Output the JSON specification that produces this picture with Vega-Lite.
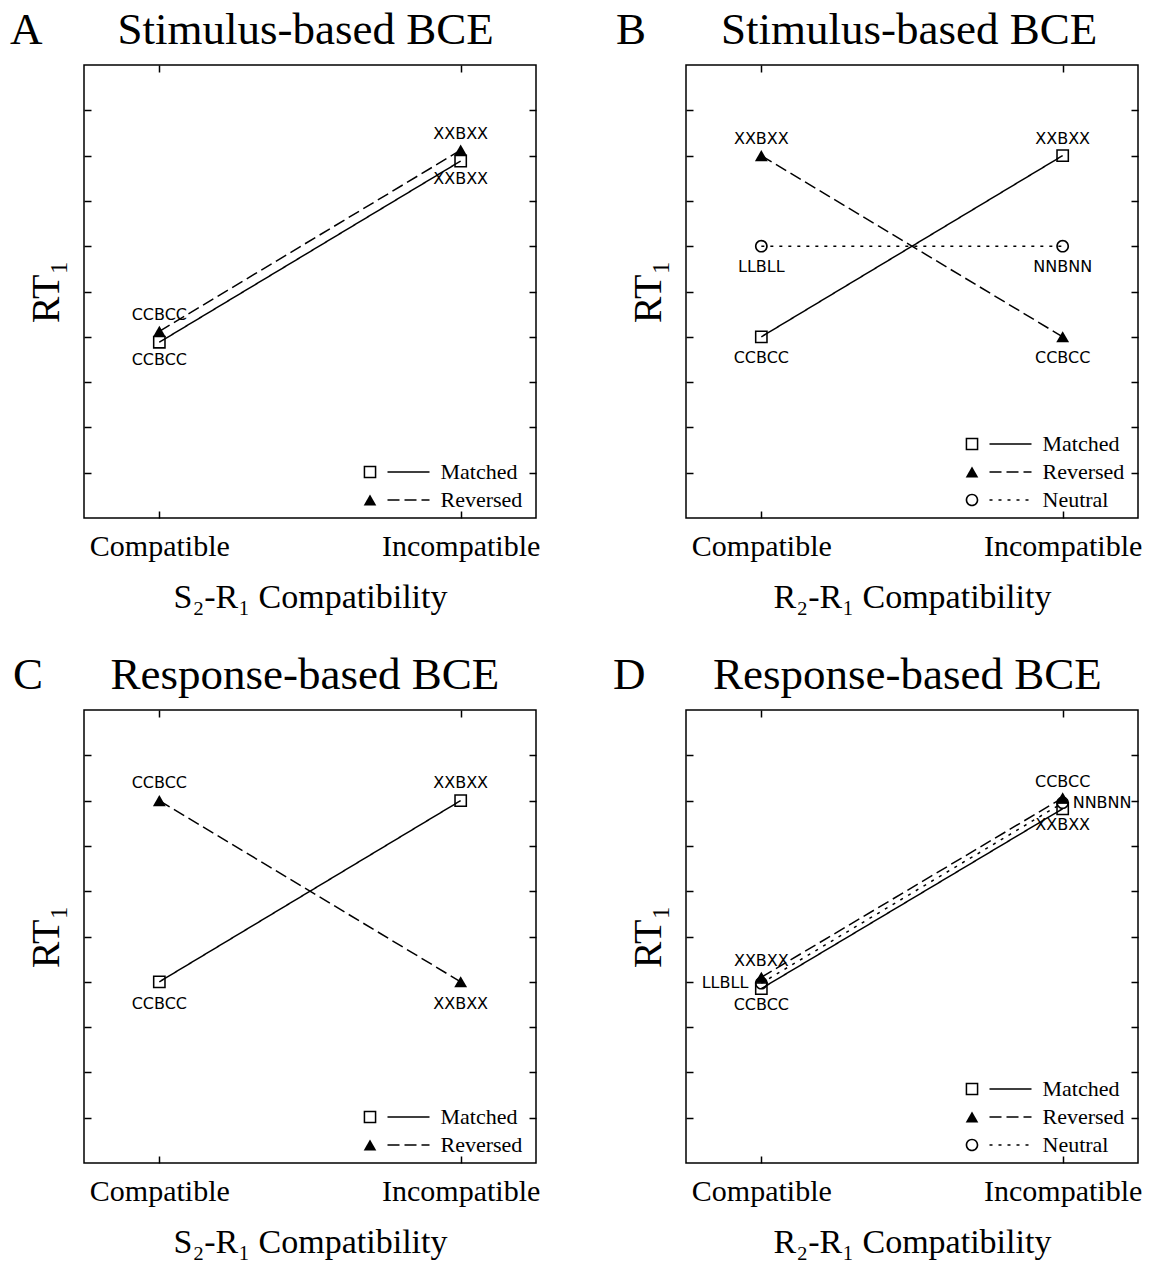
{
  "$schema": "https://vega.github.io/schema/vega-lite/v6.json",
  "background": "white",
  "padding": {"left": 9, "top": 7, "right": 0, "bottom": 0},
  "columns": 2,
  "spacing": {"row": 192, "column": 150},
  "bounds": "flush",
  "resolve": {
    "scale": {"shape": "independent", "strokeDash": "independent"},
    "legend": {"shape": "independent", "strokeDash": "independent"}
  },
  "concat": [
    {
      "width": 452, "height": 453,
      "title": {"text": "A\u00a0\u00a0\u00a0\u00a0\u00a0\u00a0\u2006Stimulus-based BCE", "anchor": "start", "frame": "group", "dx": -74},
      "data": {"values": [
        {"cond": "Matched", "compat": "Compatible", "rt": 3.88, "label": "CCBCC"},
        {"cond": "Matched", "compat": "Incompatible", "rt": 7.88, "label": "XXBXX"},
        {"cond": "Reversed", "compat": "Compatible", "rt": 4.12, "label": "CCBCC"},
        {"cond": "Reversed", "compat": "Incompatible", "rt": 8.12, "label": "XXBXX"}
      ]},
      "layer": [
        {
          "mark": {"type": "line", "stroke": "black", "strokeWidth": 1.5},
          "encoding": {
            "x": {"field": "compat", "type": "ordinal", "scale": {"type": "point", "padding": 0.25}, "axis": {"orient": "bottom", "title": "S\u2082-R\u2081 Compatibility", "labelAngle": 0}},
            "y": {"field": "rt", "type": "quantitative", "scale": {"domain": [0, 10]}, "axis": {"orient": "left", "values": [1,2,3,4,5,6,7,8,9], "labels": false, "title": "RT\u2081"}},
            "strokeDash": {"field": "cond", "type": "nominal", "sort": ["Matched", "Reversed"], "scale": {"range": [[1, 0], [12, 5]]},
              "legend": {"orient": "none", "legendX": 302.5, "legendY": 393, "title": null, "symbolType": "stroke", "symbolSize": 1764, "symbolStrokeColor": "black", "symbolStrokeWidth": 1.5, "clipHeight": 28, "rowPadding": 0, "padding": 0, "labelOffset": 10, "labelFont": "Liberation Serif", "labelFontSize": 22, "labelColor": "black"}}
          }
        },
        {
          "mark": {"type": "point", "filled": true, "fill": "black", "strokeWidth": 0, "size": 165, "opacity": 1},
          "encoding": {
            "x": {"field": "compat", "type": "ordinal", "scale": {"type": "point", "padding": 0.25}, "axis": {"orient": "top", "labels": false, "title": null}},
            "y": {"field": "rt", "type": "quantitative", "scale": {"domain": [0, 10]}, "axis": {"orient": "right", "values": [1,2,3,4,5,6,7,8,9], "labels": false, "title": null}},
            "shape": {"field": "cond", "type": "nominal", "sort": ["Matched", "Reversed"],
              "scale": {"range": ["M-1,-1H1V1H-1Z M-0.76,-0.76V0.76H0.76V-0.76Z", "triangle-up"]},
              "legend": {"orient": "none", "legendX": 275, "legendY": 393, "title": null, "labelExpr": "''", "symbolSize": 160, "symbolFillColor": "black", "symbolStrokeWidth": 0, "clipHeight": 28, "rowPadding": 0, "padding": 0, "labelOffset": 0, "labelFontSize": 22}}
          }
        },
        {
          "transform": [{"filter": "datum.cond == 'Reversed'"}],
          "mark": {"type": "text", "dy": -16, "baseline": "middle"},
          "encoding": {
            "x": {"field": "compat", "type": "ordinal", "scale": {"type": "point", "padding": 0.25}, "axis": null},
            "y": {"field": "rt", "type": "quantitative", "scale": {"domain": [0, 10]}, "axis": null},
            "text": {"field": "label"}
          }
        },
        {
          "transform": [{"filter": "datum.cond == 'Matched'"}],
          "mark": {"type": "text", "dy": 18, "baseline": "middle"},
          "encoding": {
            "x": {"field": "compat", "type": "ordinal", "scale": {"type": "point", "padding": 0.25}, "axis": null},
            "y": {"field": "rt", "type": "quantitative", "scale": {"domain": [0, 10]}, "axis": null},
            "text": {"field": "label"}
          }
        }
      ],
      "resolve": {"axis": {"x": "independent", "y": "independent"}}
    },
    {
      "width": 452, "height": 453,
      "title": {"text": "B\u00a0\u00a0\u00a0\u00a0\u00a0\u00a0\u2006Stimulus-based BCE", "anchor": "start", "frame": "group", "dx": -70},
      "data": {"values": [
        {"cond": "Matched", "compat": "Compatible", "rt": 4, "label": "CCBCC"},
        {"cond": "Matched", "compat": "Incompatible", "rt": 8, "label": "XXBXX"},
        {"cond": "Reversed", "compat": "Compatible", "rt": 8, "label": "XXBXX"},
        {"cond": "Reversed", "compat": "Incompatible", "rt": 4, "label": "CCBCC"},
        {"cond": "Neutral", "compat": "Compatible", "rt": 6, "label": "LLBLL"},
        {"cond": "Neutral", "compat": "Incompatible", "rt": 6, "label": "NNBNN"}
      ]},
      "layer": [
        {
          "mark": {"type": "line", "stroke": "black", "strokeWidth": 1.5},
          "encoding": {
            "x": {"field": "compat", "type": "ordinal", "scale": {"type": "point", "padding": 0.25}, "axis": {"orient": "bottom", "title": "R\u2082-R\u2081 Compatibility", "labelAngle": 0}},
            "y": {"field": "rt", "type": "quantitative", "scale": {"domain": [0, 10]}, "axis": {"orient": "left", "values": [1,2,3,4,5,6,7,8,9], "labels": false, "title": "RT\u2081"}},
            "strokeDash": {"field": "cond", "type": "nominal", "sort": ["Matched", "Reversed", "Neutral"], "scale": {"range": [[1, 0], [12, 5], [3, 6]]},
              "legend": {"orient": "none", "legendX": 302.5, "legendY": 365, "title": null, "symbolType": "stroke", "symbolSize": 1764, "symbolStrokeColor": "black", "symbolStrokeWidth": 1.5, "clipHeight": 28, "rowPadding": 0, "padding": 0, "labelOffset": 10, "labelFont": "Liberation Serif", "labelFontSize": 22, "labelColor": "black"}}
          }
        },
        {
          "mark": {"type": "point", "filled": true, "fill": "black", "strokeWidth": 0, "size": 165, "opacity": 1},
          "encoding": {
            "x": {"field": "compat", "type": "ordinal", "scale": {"type": "point", "padding": 0.25}, "axis": {"orient": "top", "labels": false, "title": null}},
            "y": {"field": "rt", "type": "quantitative", "scale": {"domain": [0, 10]}, "axis": {"orient": "right", "values": [1,2,3,4,5,6,7,8,9], "labels": false, "title": null}},
            "shape": {"field": "cond", "type": "nominal", "sort": ["Matched", "Reversed", "Neutral"],
              "scale": {"range": ["M-1,-1H1V1H-1Z M-0.76,-0.76V0.76H0.76V-0.76Z", "triangle-up", "M-1,0A1,1,0,1,0,1,0A1,1,0,1,0,-1,0Z M-0.74,0A0.74,0.74,0,1,1,0.74,0A0.74,0.74,0,1,1,-0.74,0Z"]},
              "legend": {"orient": "none", "legendX": 275, "legendY": 365, "title": null, "labelExpr": "''", "symbolSize": 160, "symbolFillColor": "black", "symbolStrokeWidth": 0, "clipHeight": 28, "rowPadding": 0, "padding": 0, "labelOffset": 0, "labelFontSize": 22}}
          }
        },
        {
          "transform": [{"filter": "datum.rt > 7"}],
          "mark": {"type": "text", "dy": -17, "baseline": "middle"},
          "encoding": {
            "x": {"field": "compat", "type": "ordinal", "scale": {"type": "point", "padding": 0.25}, "axis": null},
            "y": {"field": "rt", "type": "quantitative", "scale": {"domain": [0, 10]}, "axis": null},
            "text": {"field": "label"}
          }
        },
        {
          "transform": [{"filter": "datum.rt <= 7"}],
          "mark": {"type": "text", "dy": 21, "baseline": "middle"},
          "encoding": {
            "x": {"field": "compat", "type": "ordinal", "scale": {"type": "point", "padding": 0.25}, "axis": null},
            "y": {"field": "rt", "type": "quantitative", "scale": {"domain": [0, 10]}, "axis": null},
            "text": {"field": "label"}
          }
        }
      ],
      "resolve": {"axis": {"x": "independent", "y": "independent"}}
    },
    {
      "width": 452, "height": 453,
      "title": {"text": "C\u00a0\u00a0\u00a0\u00a0\u00a0\u00a0Response-based BCE", "anchor": "start", "frame": "group", "dx": -71},
      "data": {"values": [
        {"cond": "Matched", "compat": "Compatible", "rt": 4, "label": "CCBCC"},
        {"cond": "Matched", "compat": "Incompatible", "rt": 8, "label": "XXBXX"},
        {"cond": "Reversed", "compat": "Compatible", "rt": 8, "label": "CCBCC"},
        {"cond": "Reversed", "compat": "Incompatible", "rt": 4, "label": "XXBXX"}
      ]},
      "layer": [
        {
          "mark": {"type": "line", "stroke": "black", "strokeWidth": 1.5},
          "encoding": {
            "x": {"field": "compat", "type": "ordinal", "scale": {"type": "point", "padding": 0.25}, "axis": {"orient": "bottom", "title": "S\u2082-R\u2081 Compatibility", "labelAngle": 0}},
            "y": {"field": "rt", "type": "quantitative", "scale": {"domain": [0, 10]}, "axis": {"orient": "left", "values": [1,2,3,4,5,6,7,8,9], "labels": false, "title": "RT\u2081"}},
            "strokeDash": {"field": "cond", "type": "nominal", "sort": ["Matched", "Reversed"], "scale": {"range": [[1, 0], [12, 5]]},
              "legend": {"orient": "none", "legendX": 302.5, "legendY": 393, "title": null, "symbolType": "stroke", "symbolSize": 1764, "symbolStrokeColor": "black", "symbolStrokeWidth": 1.5, "clipHeight": 28, "rowPadding": 0, "padding": 0, "labelOffset": 10, "labelFont": "Liberation Serif", "labelFontSize": 22, "labelColor": "black"}}
          }
        },
        {
          "mark": {"type": "point", "filled": true, "fill": "black", "strokeWidth": 0, "size": 165, "opacity": 1},
          "encoding": {
            "x": {"field": "compat", "type": "ordinal", "scale": {"type": "point", "padding": 0.25}, "axis": {"orient": "top", "labels": false, "title": null}},
            "y": {"field": "rt", "type": "quantitative", "scale": {"domain": [0, 10]}, "axis": {"orient": "right", "values": [1,2,3,4,5,6,7,8,9], "labels": false, "title": null}},
            "shape": {"field": "cond", "type": "nominal", "sort": ["Matched", "Reversed"],
              "scale": {"range": ["M-1,-1H1V1H-1Z M-0.76,-0.76V0.76H0.76V-0.76Z", "triangle-up"]},
              "legend": {"orient": "none", "legendX": 275, "legendY": 393, "title": null, "labelExpr": "''", "symbolSize": 160, "symbolFillColor": "black", "symbolStrokeWidth": 0, "clipHeight": 28, "rowPadding": 0, "padding": 0, "labelOffset": 0, "labelFontSize": 22}}
          }
        },
        {
          "transform": [{"filter": "datum.rt > 7"}],
          "mark": {"type": "text", "dy": -18, "baseline": "middle"},
          "encoding": {
            "x": {"field": "compat", "type": "ordinal", "scale": {"type": "point", "padding": 0.25}, "axis": null},
            "y": {"field": "rt", "type": "quantitative", "scale": {"domain": [0, 10]}, "axis": null},
            "text": {"field": "label"}
          }
        },
        {
          "transform": [{"filter": "datum.rt <= 7"}],
          "mark": {"type": "text", "dy": 22, "baseline": "middle"},
          "encoding": {
            "x": {"field": "compat", "type": "ordinal", "scale": {"type": "point", "padding": 0.25}, "axis": null},
            "y": {"field": "rt", "type": "quantitative", "scale": {"domain": [0, 10]}, "axis": null},
            "text": {"field": "label"}
          }
        }
      ],
      "resolve": {"axis": {"x": "independent", "y": "independent"}}
    },
    {
      "width": 452, "height": 453,
      "title": {"text": "D\u00a0\u00a0\u00a0\u00a0\u00a0\u00a0Response-based BCE", "anchor": "start", "frame": "group", "dx": -73},
      "data": {"values": [
        {"cond": "Matched", "compat": "Compatible", "rt": 3.85, "label": "CCBCC"},
        {"cond": "Matched", "compat": "Incompatible", "rt": 7.82, "label": "XXBXX"},
        {"cond": "Reversed", "compat": "Compatible", "rt": 4.1, "label": "XXBXX"},
        {"cond": "Reversed", "compat": "Incompatible", "rt": 8.06, "label": "CCBCC"},
        {"cond": "Neutral", "compat": "Compatible", "rt": 3.97, "label": "LLBLL"},
        {"cond": "Neutral", "compat": "Incompatible", "rt": 7.95, "label": "NNBNN"}
      ]},
      "layer": [
        {
          "mark": {"type": "line", "stroke": "black", "strokeWidth": 1.5},
          "encoding": {
            "x": {"field": "compat", "type": "ordinal", "scale": {"type": "point", "padding": 0.25}, "axis": {"orient": "bottom", "title": "R\u2082-R\u2081 Compatibility", "labelAngle": 0}},
            "y": {"field": "rt", "type": "quantitative", "scale": {"domain": [0, 10]}, "axis": {"orient": "left", "values": [1,2,3,4,5,6,7,8,9], "labels": false, "title": "RT\u2081"}},
            "strokeDash": {"field": "cond", "type": "nominal", "sort": ["Matched", "Reversed", "Neutral"], "scale": {"range": [[1, 0], [12, 5], [3, 6]]},
              "legend": {"orient": "none", "legendX": 302.5, "legendY": 365, "title": null, "symbolType": "stroke", "symbolSize": 1764, "symbolStrokeColor": "black", "symbolStrokeWidth": 1.5, "clipHeight": 28, "rowPadding": 0, "padding": 0, "labelOffset": 10, "labelFont": "Liberation Serif", "labelFontSize": 22, "labelColor": "black"}}
          }
        },
        {
          "mark": {"type": "point", "filled": true, "fill": "black", "strokeWidth": 0, "size": 165, "opacity": 1},
          "encoding": {
            "x": {"field": "compat", "type": "ordinal", "scale": {"type": "point", "padding": 0.25}, "axis": {"orient": "top", "labels": false, "title": null}},
            "y": {"field": "rt", "type": "quantitative", "scale": {"domain": [0, 10]}, "axis": {"orient": "right", "values": [1,2,3,4,5,6,7,8,9], "labels": false, "title": null}},
            "shape": {"field": "cond", "type": "nominal", "sort": ["Matched", "Reversed", "Neutral"],
              "scale": {"range": ["M-1,-1H1V1H-1Z M-0.76,-0.76V0.76H0.76V-0.76Z", "triangle-up", "M-1,0A1,1,0,1,0,1,0A1,1,0,1,0,-1,0Z M-0.74,0A0.74,0.74,0,1,1,0.74,0A0.74,0.74,0,1,1,-0.74,0Z"]},
              "legend": {"orient": "none", "legendX": 275, "legendY": 365, "title": null, "labelExpr": "''", "symbolSize": 160, "symbolFillColor": "black", "symbolStrokeWidth": 0, "clipHeight": 28, "rowPadding": 0, "padding": 0, "labelOffset": 0, "labelFontSize": 22}}
          }
        },
        {
          "transform": [{"filter": "datum.cond == 'Reversed'"}],
          "mark": {"type": "text", "dy": -16, "baseline": "middle"},
          "encoding": {
            "x": {"field": "compat", "type": "ordinal", "scale": {"type": "point", "padding": 0.25}, "axis": null},
            "y": {"field": "rt", "type": "quantitative", "scale": {"domain": [0, 10]}, "axis": null},
            "text": {"field": "label"}
          }
        },
        {
          "transform": [{"filter": "datum.cond == 'Matched'"}],
          "mark": {"type": "text", "dy": 16, "baseline": "middle"},
          "encoding": {
            "x": {"field": "compat", "type": "ordinal", "scale": {"type": "point", "padding": 0.25}, "axis": null},
            "y": {"field": "rt", "type": "quantitative", "scale": {"domain": [0, 10]}, "axis": null},
            "text": {"field": "label"}
          }
        },
        {
          "transform": [{"filter": "datum.cond == 'Neutral' && datum.compat == 'Compatible'"}],
          "mark": {"type": "text", "dx": -13, "align": "right", "baseline": "middle"},
          "encoding": {
            "x": {"field": "compat", "type": "ordinal", "scale": {"type": "point", "padding": 0.25}, "axis": null},
            "y": {"field": "rt", "type": "quantitative", "scale": {"domain": [0, 10]}, "axis": null},
            "text": {"field": "label"}
          }
        },
        {
          "transform": [{"filter": "datum.cond == 'Neutral' && datum.compat == 'Incompatible'"}],
          "mark": {"type": "text", "dx": 10, "align": "left", "baseline": "middle"},
          "encoding": {
            "x": {"field": "compat", "type": "ordinal", "scale": {"type": "point", "padding": 0.25}, "axis": null},
            "y": {"field": "rt", "type": "quantitative", "scale": {"domain": [0, 10]}, "axis": null},
            "text": {"field": "label"}
          }
        }
      ],
      "resolve": {"axis": {"x": "independent", "y": "independent"}}
    }
  ],
  "config": {
    "view": {"stroke": "black", "strokeWidth": 1.5},
    "title": {"font": "Liberation Serif", "fontSize": 45, "fontWeight": "normal", "color": "black", "baseline": "alphabetic", "offset": 11},
    "axis": {"grid": false, "domain": false, "ticks": true, "tickColor": "black", "tickWidth": 1.5, "tickSize": -7,
      "labelFont": "Liberation Serif", "labelFontSize": 30, "labelColor": "black", "labelPadding": 20,
      "titleFont": "Liberation Serif", "titleFontWeight": "normal", "titleColor": "black", "titleFontSize": 34, "titlePadding": 19},
    "axisLeft": {"titleFontSize": 40, "titlePadding": 17},
    "text": {"font": "DejaVu Sans", "fontSize": 16, "color": "black"}
  }
}
